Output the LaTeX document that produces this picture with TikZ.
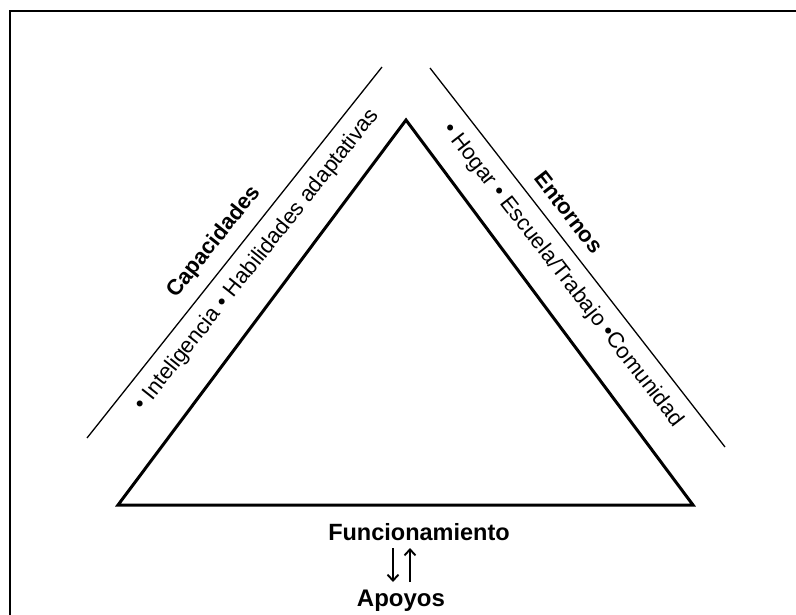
\documentclass[tikz,border=0pt]{standalone}
\usepackage{fontspec}
\setmainfont{Liberation Sans}
\usetikzlibrary{arrows.meta}
\tikzset{
  thinline/.style={line width=1.3pt, black},
  tri/.style={line width=3pt, line join=miter, black},
  frame/.style={line width=2pt, black},
  headtxt/.style={font=\bfseries\fontsize{22}{26}\selectfont, inner sep=0pt},
  listtxt/.style={font=\fontsize{22}{26}\selectfont, inner sep=0pt},
  bottxt/.style={font=\bfseries\fontsize{23.5}{27}\selectfont, inner sep=0pt, anchor=base},
  arr/.style={line width=1.9pt, -{Straight Barb[length=6pt,width=11pt]}}
}
\begin{document}
\begin{tikzpicture}[x=1pt,y=-1pt]
\useasboundingbox (0,0) rectangle (796,614);
\clip (0,0) rectangle (796,614);
\fill[white] (0,0) rectangle (796,614);
\draw[frame] (9.5,11) rectangle (820,640);
% triangle
\coordinate (T) at (406,120);
\coordinate (BL) at (118,505);
\coordinate (BR) at (693,505);
\draw[tri] (T) -- (BL) -- (BR) -- cycle;
% side lines
\coordinate (L1a) at (87,438);
\coordinate (L1b) at (382,67);
\coordinate (L2a) at (430,68);
\coordinate (L2b) at (725,447);
\draw[thinline] (L1a) -- (L1b);
\draw[thinline] (L2a) -- (L2b);
% labels left
\path (L1a) -- node[sloped, pos=0.49, above=12pt, headtxt] (cap) {Capacidades} (L1b);
\path (L1a) -- node[sloped, pos=0.517, below=12pt, listtxt] (capl) {• Inteligencia • Habilidades adaptativas} (L1b);
% labels right
\path (L2a) -- node[sloped, pos=0.415, above=13pt, headtxt] (ent) {Entornos} (L2b);
\path (L2a) -- node[sloped, pos=0.51, below=12pt, listtxt] (entl) {• Hogar • Escuela/Trabajo •Comunidad} (L2b);
% bottom
\node[bottxt] (func) at (419,540) {Funcionamiento};
\node[bottxt, font=\bfseries\fontsize{24}{27}\selectfont] (apo) at (401,606) {Apoyos};
\coordinate (d1) at (393,548);
\coordinate (d2) at (393,582);
\coordinate (u1) at (410,582);
\coordinate (u2) at (410,548);
\draw[arr] (d1) -- (d2);
\draw[arr] (u1) -- (u2);
\end{tikzpicture}
\end{document}
